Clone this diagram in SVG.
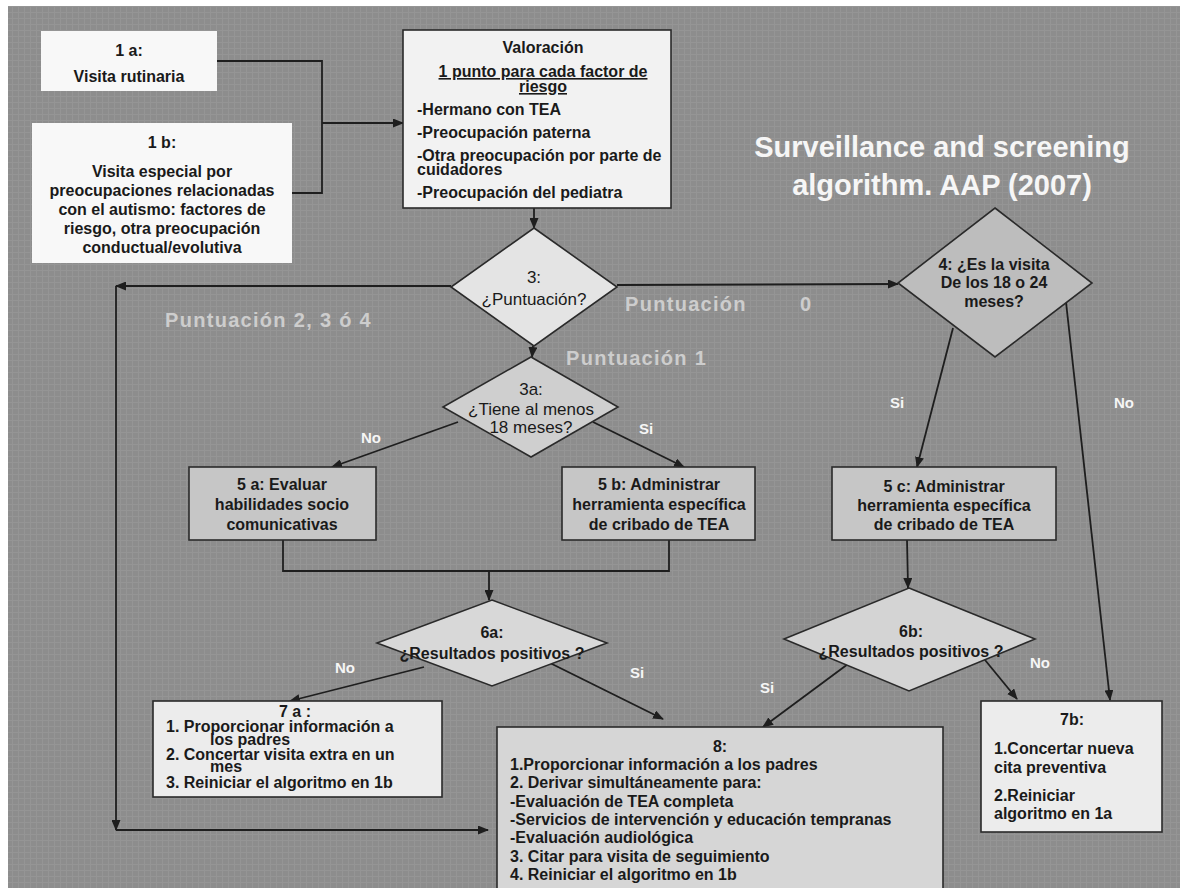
<svg xmlns="http://www.w3.org/2000/svg" width="1180" height="888" viewBox="0 0 1180 888">
<style>
text{font-family:"Liberation Sans",Arial,sans-serif;fill:#1a1a1a}
.b{font-weight:bold;font-size:16px}
.r{font-size:17px}
.c{text-anchor:middle}
.box{stroke:#2a2a2a;stroke-width:1.6}
.con{fill:none;stroke:#1e1e1e;stroke-width:1.8}
.lbl{font-weight:bold;font-size:15px;fill:#f6f6f6;text-anchor:middle}
.pt{font-weight:bold;font-size:20px;fill:#cdcdcd;letter-spacing:1.3px}
.title{font-weight:bold;font-size:29px;fill:#f6f6f6;text-anchor:middle}
.sm{font-weight:bold;font-size:15px}
</style>
<defs>
<marker id="ah" markerUnits="userSpaceOnUse" markerWidth="11" markerHeight="9" refX="10" refY="4.5" orient="auto">
<path d="M0,0 L11,4.5 L0,9 z" fill="#1e1e1e"/>
</marker>
<pattern id="grid" width="6" height="6" patternUnits="userSpaceOnUse">
<rect width="6" height="6" fill="#8d8d8d"/>
<path d="M0,0.5 H6 M0.5,0 V6" stroke="#9a9a9a" stroke-width="1" opacity="0.6"/>
</pattern>
</defs>
<rect x="0" y="0" width="1180" height="888" fill="#ffffff"/>
<rect x="8" y="6" width="1172" height="882" fill="url(#grid)"/>

<g id="title">
<text class="title" x="942" y="157">Surveillance and screening</text>
<text class="title" x="942" y="195">algorithm. AAP (2007)</text>
</g>

<g id="connectors">
<polyline class="con" points="217,61 322,61 322,193 292,193"/>
<line class="con" x1="322" y1="123" x2="403" y2="123" marker-end="url(#ah)"/>
<line class="con" x1="534" y1="208" x2="534" y2="228" marker-end="url(#ah)"/>
<line class="con" x1="451" y1="286" x2="116" y2="286" marker-end="url(#ah)"/>
<line class="con" x1="116" y1="286" x2="116" y2="830" marker-end="url(#ah)"/>
<line class="con" x1="116" y1="830" x2="488" y2="830" marker-end="url(#ah)"/>
<line class="con" x1="617" y1="285" x2="898" y2="284" marker-end="url(#ah)"/>
<line class="con" x1="533" y1="346" x2="532" y2="357" marker-end="url(#ah)"/>
<line class="con" x1="458" y1="422" x2="332" y2="467" marker-end="url(#ah)"/>
<line class="con" x1="593" y1="422" x2="684" y2="467" marker-end="url(#ah)"/>
<polyline class="con" points="283,540 283,571 669,571 669,540"/>
<line class="con" x1="489" y1="571" x2="489" y2="600" marker-end="url(#ah)"/>
<line class="con" x1="424" y1="667" x2="290" y2="701" marker-end="url(#ah)"/>
<line class="con" x1="548" y1="662" x2="663" y2="719" marker-end="url(#ah)"/>
<line class="con" x1="953" y1="328" x2="917" y2="467" marker-end="url(#ah)"/>
<line class="con" x1="1066" y1="302" x2="1110" y2="700" marker-end="url(#ah)"/>
<line class="con" x1="907" y1="540" x2="908" y2="588" marker-end="url(#ah)"/>
<line class="con" x1="985" y1="660" x2="1017" y2="699" marker-end="url(#ah)"/>
<line class="con" x1="848" y1="664" x2="763" y2="727" marker-end="url(#ah)"/>
</g>

<g id="labels">
<text class="pt" x="165" y="327">Puntuación 2, 3 ó 4</text>
<text class="pt" x="625" y="311">Puntuación<tspan x="800">0</tspan></text>
<text class="pt" x="566" y="365">Puntuación 1</text>
<text class="lbl" x="371" y="443">No</text>
<text class="lbl" x="646" y="434">Si</text>
<text class="lbl" x="345" y="673">No</text>
<text class="lbl" x="637" y="678">Si</text>
<text class="lbl" x="897" y="408">Si</text>
<text class="lbl" x="1124" y="408">No</text>
<text class="lbl" x="1040" y="668">No</text>
<text class="lbl" x="767" y="693">Si</text>
</g>

<g id="n1a">
<rect x="41" y="31" width="176" height="60" fill="#f8f8f8"/>
<text class="b c" x="129" y="56">1 a:</text>
<text class="b c" x="129" y="82">Visita rutinaria</text>
</g>

<g id="n1b">
<rect x="32" y="123" width="260" height="140" fill="#f8f8f8"/>
<text class="b c" x="162" y="148">1 b:</text>
<text class="b c" x="162" y="177">Visita especial por</text>
<text class="b c" x="162" y="196">preocupaciones relacionadas</text>
<text class="b c" x="162" y="215">con el autismo: factores de</text>
<text class="b c" x="162" y="234">riesgo, otra preocupación</text>
<text class="b c" x="162" y="253">conductual/evolutiva</text>
</g>

<g id="nValoracion">
<rect class="box" x="403" y="30" width="268" height="178" fill="#f2f2f2"/>
<text class="b c" x="543" y="53">Valoración</text>
<text class="b c" x="543" y="77" text-decoration="underline">1 punto para cada factor de</text>
<text class="b c" x="543" y="92" text-decoration="underline">riesgo</text>
<text class="b" x="417" y="115">-Hermano con TEA</text>
<text class="b" x="417" y="138">-Preocupación paterna</text>
<text class="b" x="417" y="161">-Otra preocupación por parte de</text>
<text class="b" x="417" y="175">cuidadores</text>
<text class="b" x="417" y="198">-Preocupación del pediatra</text>
</g>

<g id="n3">
<polygon class="box" points="534,228 617,287 534,346 451,287" fill="#e4e4e4"/>
<text class="r c" x="534" y="283">3:</text>
<text class="r c" x="534" y="305">¿Puntuación?</text>
</g>

<g id="n4">
<polygon class="box" points="995,208 1092,283 995,357 898,283" fill="#bdbdbd"/>
<text class="b c" x="994" y="270">4: ¿Es la visita</text>
<text class="b c" x="994" y="288">De los 18 o 24</text>
<text class="b c" x="994" y="307">meses?</text>
</g>

<g id="n3a">
<polygon class="box" points="531,357 618,407 531,457 443,407" fill="#cfcfcf"/>
<text class="r c" x="531" y="395">3a:</text>
<text class="r c" x="531" y="415">¿Tiene al menos</text>
<text class="r c" x="531" y="433">18 meses?</text>
</g>

<g id="n5a">
<rect class="box" x="189" y="467" width="187" height="73" fill="#c6c6c6"/>
<text class="b c" x="282" y="490">5 a: Evaluar</text>
<text class="b c" x="282" y="510">habilidades socio</text>
<text class="b c" x="282" y="530">comunicativas</text>
</g>

<g id="n5b">
<rect class="box" x="562" y="467" width="193" height="73" fill="#c6c6c6"/>
<text class="b c" x="659" y="490">5 b: Administrar</text>
<text class="b c" x="659" y="510">herramienta específica</text>
<text class="b c" x="659" y="530">de cribado de TEA</text>
</g>

<g id="n5c">
<rect class="box" x="832" y="467" width="224" height="73" fill="#c6c6c6"/>
<text class="b c" x="944" y="492">5 c: Administrar</text>
<text class="b c" x="944" y="511">herramienta específica</text>
<text class="b c" x="944" y="530">de cribado de TEA</text>
</g>

<g id="n6a">
<polygon class="box" points="492,600 607,643 492,686 377,643" fill="#d8d8d8"/>
<text class="b c" x="492" y="638">6a:</text>
<text class="b c" x="492" y="659">¿Resultados positivos ?</text>
</g>

<g id="n6b">
<polygon class="box" points="909,588 1035,639 909,691 784,639" fill="#d4d4d4"/>
<text class="b c" x="911" y="637">6b:</text>
<text class="b c" x="911" y="657">¿Resultados positivos ?</text>
</g>

<g id="n7a">
<rect class="box" x="153" y="701" width="289" height="96" fill="#ececec"/>
<text class="b c" x="295" y="717">7 a :</text>
<text class="b" x="166" y="732">1. Proporcionar  información a</text>
<text class="b" x="210" y="745">los padres</text>
<text class="b" x="166" y="760">2. Concertar visita extra en un</text>
<text class="b" x="210" y="772">mes</text>
<text class="b" x="166" y="788">3. Reiniciar el algoritmo en 1b</text>
</g>

<g id="n7b">
<rect class="box" x="981" y="701" width="181" height="131" fill="#ececec"/>
<text class="b c" x="1072" y="725">7b:</text>
<text class="b" x="994" y="754">1.Concertar nueva</text>
<text class="b" x="994" y="773">cita preventiva</text>
<text class="b" x="994" y="801">2.Reiniciar</text>
<text class="b" x="994" y="819">algoritmo en 1a</text>
</g>

<g id="n8">
<rect class="box" x="497" y="727" width="446" height="175" fill="#d6d6d6"/>
<text class="b c" x="720" y="752">8:</text>
<text class="b" x="510" y="770">1.Proporcionar información a los padres</text>
<text class="b" x="510" y="788">2. Derivar simultáneamente para:</text>
<text class="b" x="510" y="807">-Evaluación de TEA completa</text>
<text class="b" x="510" y="825">-Servicios de intervención y educación tempranas</text>
<text class="b" x="510" y="843">-Evaluación audiológica</text>
<text class="b" x="510" y="862">3. Citar para visita de seguimiento</text>
<text class="b" x="510" y="880">4. Reiniciar el algoritmo en 1b</text>
</g>
</svg>
